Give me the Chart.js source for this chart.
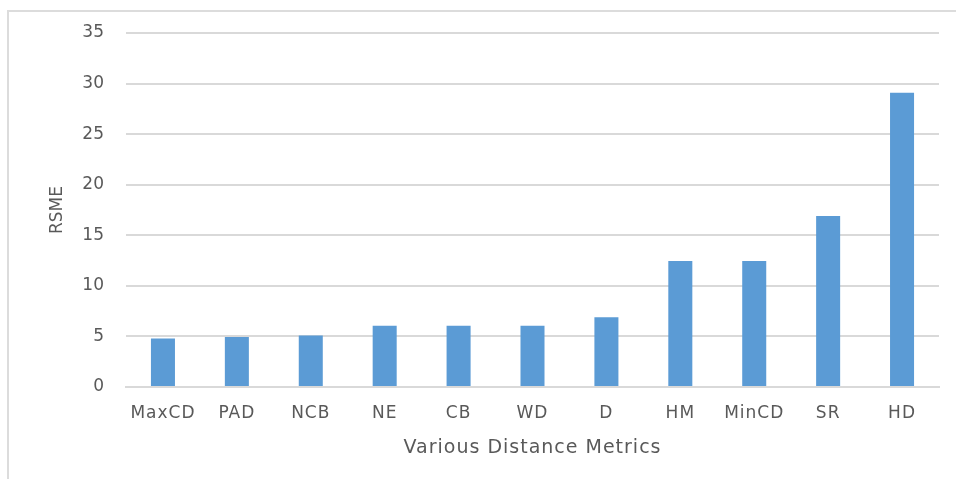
<!DOCTYPE html>
<html lang="en">
<head>
    <meta charset="UTF-8">
    <title>RSME by Distance Metric</title>
    <script src="https://cdn.jsdelivr.net/npm/chart.js"></script>
    <style>
        html, body {
            margin: 0;
            padding: 0;
            background: #ffffff;
        }
        .frame {
            position: relative;
            width: 956px;
            height: 479px;
            overflow: hidden;
        }
        .edge {
            position: absolute;
            left: 7px;
            top: 10px;
            right: 0;
            bottom: 0;
            border-top: 2px solid #dcdcdc;
            border-left: 2px solid #dcdcdc;
        }
        canvas {
            position: absolute;
            left: 0;
            top: 0;
        }
    </style>
</head>
<body>
    <div class="frame">
        <div class="edge"></div>
        <canvas id="rsmeChart" width="956" height="479"></canvas>
    </div>

    <script>
        const metrics = ["MaxCD", "PAD", "NCB", "NE", "CB", "WD", "D", "HM", "MinCD", "SR", "HD"];
        const rsme = [4.8, 4.95, 5.1, 6.05, 6.05, 6.05, 6.9, 12.45, 12.45, 16.9, 29.1];
        const yTicks = [0, 5, 10, 15, 20, 25, 30, 35];

        const textColor = '#595959';
        const gridColor = '#d9d9d9';
        const fontFamily = "'DejaVu Sans', sans-serif";

        // the original text is drawn wide, so open up the x axis lettering a little
        function spaced(scale, method, px) {
            const orig = scale[method];
            scale[method] = function (...args) {
                const ctx = this.ctx;
                ctx.save();
                ctx.letterSpacing = px + 'px';
                orig.apply(this, args);
                ctx.restore();
            };
        }

        const letterSpacingPlugin = {
            id: 'letterSpacing',
            beforeDraw(chart) {
                const x = chart.scales.x;
                if (x._spaced) return;
                spaced(x, 'drawLabels', 1);
                spaced(x, 'drawTitle', 1);
                x._spaced = true;
            }
        };

        new Chart(document.getElementById('rsmeChart'), {
            type: 'bar',
            data: {
                labels: metrics,
                datasets: [{
                    label: 'RSME',
                    data: rsme,
                    backgroundColor: '#5b9bd5',
                    borderWidth: 0,
                    barPercentage: 0.325,
                    categoryPercentage: 1
                }]
            },
            plugins: [letterSpacingPlugin],
            options: {
                responsive: false,
                animation: false,
                layout: { padding: { top: 33, right: 17, left: 0, bottom: 0 } },
                plugins: {
                    legend: { display: false },
                    tooltip: { enabled: false }
                },
                scales: {
                    x: {
                        afterFit: (scale) => { scale.height = 92; },
                        grid: { display: false, drawTicks: false },
                        border: { display: true, color: gridColor, width: 2 },
                        ticks: {
                            color: textColor,
                            padding: 16,
                            maxRotation: 0,
                            font: { family: fontFamily, size: 17 }
                        },
                        title: {
                            display: true,
                            text: 'Various Distance Metrics',
                            color: textColor,
                            font: { family: fontFamily, size: 19 },
                            padding: { top: 0, bottom: 20 }
                        }
                    },
                    y: {
                        min: 0,
                        max: 35,
                        afterFit: (scale) => { scale.width = 126; },
                        afterBuildTicks: (scale) => {
                            scale.ticks = yTicks.map(v => ({ value: v }));
                        },
                        grid: { color: gridColor, lineWidth: 2, drawTicks: false },
                        border: { display: false },
                        ticks: {
                            color: textColor,
                            padding: 22,
                            font: { family: fontFamily, size: 17 }
                        },
                        title: {
                            display: true,
                            text: 'RSME',
                            color: textColor,
                            font: { family: fontFamily, size: 17 },
                            padding: { top: 47, bottom: 0 }
                        }
                    }
                }
            }
        });
    </script>
</body>
</html>
